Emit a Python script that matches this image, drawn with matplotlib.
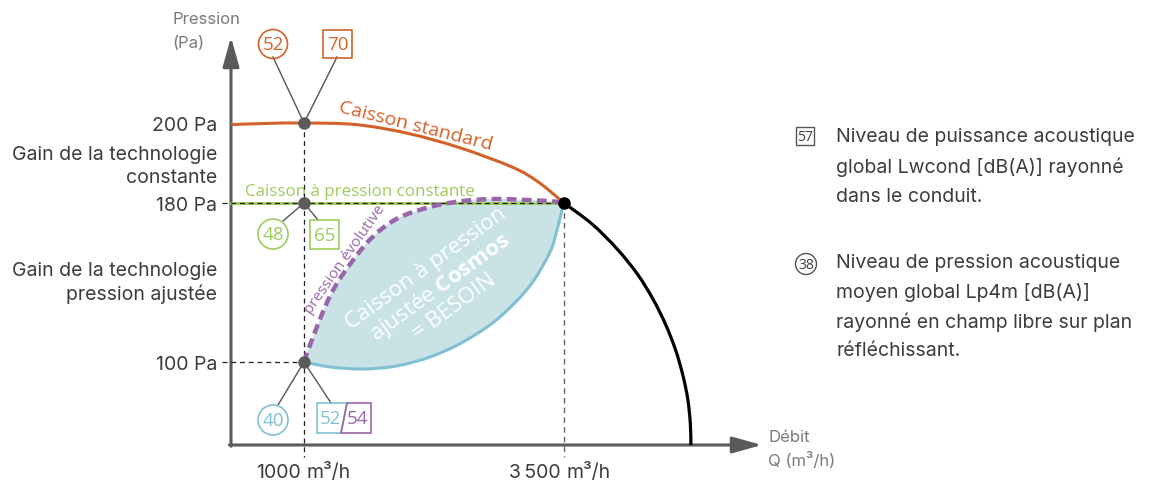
import numpy as np
import matplotlib
matplotlib.use("Agg")
import matplotlib.pyplot as plt
from matplotlib.patches import Circle, Rectangle, Polygon, PathPatch
from matplotlib.path import Path

W, H = 1167, 481

# --- courbes (débit m3/h, pression Pa) ---
q_standard = [0, 500, 1000, 1500, 2000, 2500, 3000, 3250, 3500]
p_standard = [199.6, 199.9, 200.0, 199.6, 197.4, 193.8, 189.0, 185.3, 180.0]

q_reseau = [3500, 3770, 4010, 4205, 4355, 4475, 4570, 4640, 4690, 4715, 4720]
p_reseau = [180, 169.4, 156.9, 144.3, 131.7, 119.1, 106.5, 85.5, 55.4, 25.3, 0]

q_evolutive = [1000, 1090, 1250, 1410, 1640, 1890, 2210, 2530, 2860, 3340, 3500]
p_evolutive = [100, 113.1, 133.2, 146.8, 161.9, 172.0, 178.0, 180.5, 181.0, 180.5, 180]

q_besoin = [1000, 1250, 1570, 1890, 2210, 2530, 2860, 3170, 3365, 3430, 3490, 3500]
p_besoin = [100, 94.0, 91.6, 95.2, 102.5, 110.1, 121.6, 138.2, 155.3, 165.9, 178.5, 180]

q_ticks = [1000, 3500]
q_tick_nums = ["1000", "3\u2009500"]
p_ticks = [200, 180, 100]
p_tick_labels = ["200 Pa", "180 Pa", "100 Pa"]

q_op, q_nom = 1000, 3500
p_std_op, p_const, p_adj = 200, 180, 100

# niveaux sonores dB(A)
lp_std, lw_std = "52", "70"
lp_const, lw_const = "48", "65"
lp_adj, lw_adj_a, lw_adj_b = "40", "52", "54"

legend_lw = ["Niveau de puissance acoustique", "global Lwcond [dB(A)] rayonné",
             "dans le conduit."]
legend_lp = ["Niveau de pression acoustique", "moyen global Lp4m [dB(A)]",
             "rayonné en champ libre sur plan", "réfléchissant."]

# --- échelle schématique (position en pixels des valeurs repères) ---
Q_REF = [-1000, 0, 1000, 3500, 6000]
X_PX = [158, 231, 304, 564, 824]
P_REF = [-50, 0, 100, 180, 200, 260]
Y_PX = [487.5, 446, 363, 204, 124, -116]
Y_UP = [H - v for v in Y_PX]


def fx(v):
    return np.interp(v, Q_REF, X_PX)


def fx_inv(v):
    return np.interp(v, X_PX, Q_REF)


def fy(v):
    return np.interp(v, P_REF, Y_UP)


def fy_inv(v):
    return np.interp(v, Y_UP, P_REF)


ORANGE = "#d2622a"
GREEN = "#9dcc5c"
BLUE = "#80c0d2"
FILL = "#c9e2e6"
PURPLE = "#9966aa"
AXIS = "#5a5a5a"
TXT = "#3c3c3c"
LIGHT = "#7a7a7a"

plt.rcParams["font.family"] = ["Inter", "DejaVu Sans"]
plt.rcParams["mathtext.fontset"] = "custom"
plt.rcParams["mathtext.rm"] = "Open Sans"
plt.rcParams["mathtext.bf"] = "Open Sans:bold"

fig = plt.figure(figsize=(W / 100, H / 100), dpi=100)
ax = fig.add_axes([231 / W, (H - 446) / H, (762 - 231) / W, (446 - 38) / H])
ax.set_xscale("function", functions=(fx, fx_inv))
ax.set_yscale("function", functions=(fy, fy_inv))
ax.set_xlim(0, float(fx_inv(762)))
ax.set_ylim(0, float(fy_inv(H - 38)))
ax.axis("off")

# axes fléchés
arr = dict(arrowstyle="-|>,head_length=1.8,head_width=0.5", color=AXIS, lw=2.2,
           shrinkA=0, shrinkB=0, mutation_scale=10)
ax.annotate("", xy=(1, 0), xytext=(-0.003, 0), xycoords="axes fraction",
            arrowprops=arr, annotation_clip=False)
ax.annotate("", xy=(0, 1), xytext=(0, -0.003), xycoords="axes fraction",
            arrowprops=arr, annotation_clip=False)

# --- calque en pixels (positions issues de ax.transData) ---
ov = fig.add_axes([0, 0, 1, 1])
ov.set_xlim(0, W)
ov.set_ylim(H, 0)
ov.axis("off")
ov.set_zorder(5)
fig.canvas.draw()


def px(q, p):
    x, y = ax.transData.transform((q, p))
    return x, H - y


def pts_px(qs, ps):
    return np.array([px(q, p) for q, p in zip(qs, ps)])


def smooth(pts):
    # courbe de Bézier passant par les points (Catmull-Rom)
    n = len(pts)
    verts, codes = [pts[0]], [Path.MOVETO]
    for i in range(n - 1):
        p0, p1 = pts[max(i - 1, 0)], pts[i]
        p2, p3 = pts[i + 1], pts[min(i + 2, n - 1)]
        verts += [p1 + (p2 - p0) / 6, p2 - (p3 - p1) / 6, p2]
        codes += [Path.CURVE4] * 3
    return verts, codes


def curve(qs, ps, **kw):
    v, c = smooth(pts_px(qs, ps))
    ov.add_patch(PathPatch(Path(v, c), fill=False, **kw))


# zone Cosmos
vu, cu = smooth(pts_px(q_evolutive, p_evolutive))
vl, cl = smooth(pts_px(q_besoin[::-1], p_besoin[::-1]))
ov.add_patch(PathPatch(Path(vu + vl[1:] + [vu[0]], cu + cl[1:] + [Path.CLOSEPOLY]),
                       fc=FILL, ec="none", zorder=1))
curve(q_besoin, p_besoin, ec=BLUE, lw=2.2, zorder=2, capstyle="round")

# pression constante
ov.plot(*pts_px([0, q_nom], [p_const, p_const]).T, color=GREEN, lw=2.0, zorder=2)

# courbe standard + réseau
curve(q_standard, p_standard, ec=ORANGE, lw=2.2, zorder=3)
curve(q_reseau, p_reseau, ec="black", lw=2.3, zorder=3)

# pointillés de repère
dash = dict(color="#222222", lw=0.9, ls=(0, (4, 3)), zorder=4)
ov.plot(*pts_px([-125, q_nom], [p_const, p_const]).T, **dash)
ov.plot(*pts_px([-125, q_op], [p_adj, p_adj]).T, **dash)
ov.plot(*pts_px([q_op, q_op], [p_std_op, -14]).T, **dash)
ov.plot(*pts_px([q_nom, q_nom], [p_const, -14]).T, color="#666666", lw=1.0,
        ls=(0, (4, 3)), zorder=0.5)

# pression évolutive
curve(q_evolutive, p_evolutive, ec=PURPLE, lw=3.2, ls=(0, (2.2, 1.2)), zorder=5)

# points
ov.plot(*pts_px([q_op] * 3, [p_std_op, p_const, p_adj]).T, "o", color="#5b5b5b",
        ms=8, zorder=6)
ov.plot(*pts_px([q_nom], [p_const]).T, "o", color="black", ms=8, zorder=6)


def circ(x, y, r, txt, color, fs=13.5, lw=1.2):
    ov.add_patch(Circle((x, y), r, fill=False, ec=color, lw=lw))
    ov.text(x, y + 0.5, txt, ha="center", va="center", color=color,
            fontsize=fs, family="Open Sans")


def box(x, y, w, h, txt, color, fs=13.5, lw=1.2):
    ov.add_patch(Rectangle((x - w / 2, y - h / 2), w, h, fill=False, ec=color, lw=lw))
    ov.text(x, y + 0.5, txt, ha="center", va="center", color=color,
            fontsize=fs, family="Open Sans")


def leader(a, b):
    ov.plot([a[0], b[0]], [a[1], b[1]], color="#555555", lw=1.0, zorder=1)


def lines(x, y0, step, items, **kw):
    for i, s in enumerate(items):
        ov.text(x, y0 + i * step, s, va="center", **kw)


# pastilles caisson standard
x0, y0 = px(q_op, p_std_op)
leader((x0, y0), (x0 - 31, y0 - 66))
leader((x0, y0), (x0 + 33, y0 - 66))
circ(x0 - 31, y0 - 79, 14.5, lp_std, ORANGE)
box(x0 + 33.5, y0 - 79, 29, 28, lw_std, ORANGE)

# pastilles pression constante
x0, y0 = px(q_op, p_const)
leader((x0, y0), (x0 - 21, y0 + 18))
leader((x0, y0), (x0 + 14, y0 + 17))
circ(x0 - 31, y0 + 31, 15, lp_const, GREEN)
box(x0 + 20.5, y0 + 31.5, 29, 29, lw_const, GREEN)

# pastilles pression ajustée
x0, y0 = px(q_op, p_adj)
leader((x0, y0), (x0 - 26, y0 + 43))
leader((x0, y0), (x0 + 27, y0 + 41))
circ(x0 - 31, y0 + 58, 15, lp_adj, BLUE)
bx, by = x0 + 13, y0 + 41
ov.add_patch(Polygon([(bx, by), (bx + 30, by), (bx + 24, by + 30), (bx, by + 30)],
                     closed=True, fill=False, ec=BLUE, lw=1.2))
ov.add_patch(Polygon([(bx + 30, by), (bx + 54, by), (bx + 54, by + 30), (bx + 24, by + 30)],
                     closed=True, fill=False, ec=PURPLE, lw=1.2))
ov.text(bx + 13.5, by + 15.5, lw_adj_a, ha="center", va="center", color=BLUE,
        fontsize=13.5, family="Open Sans")
ov.text(bx + 40.5, by + 15.5, lw_adj_b, ha="center", va="center", color=PURPLE,
        fontsize=13.5, family="Open Sans")

# textes dans le graphique
ov.text(416, 126, "Caisson standard", rotation=-14, ha="center", va="center",
        color=ORANGE, fontsize=14, family="Open Sans", rotation_mode="anchor")
ov.text(245, 196, "Caisson à pression constante", ha="left", va="baseline",
        color=GREEN, fontsize=12.2, family="Open Sans")
ov.text(345, 260, "pression évolutive", rotation=55, ha="center", va="center",
        color=PURPLE, fontsize=11, family="Open Sans", rotation_mode="anchor")
ov.text(440, 288, "Caisson à pression\najustée $\\mathbf{Cosmos}$\n= BESOIN",
        rotation=36, ha="center", va="center", multialignment="center",
        color="white", fontsize=16, family="Open Sans", rotation_mode="anchor",
        linespacing=1.05)

# graduations
for p, lab in zip(p_ticks, p_tick_labels):
    x, y = px(0, p)
    ov.text(x - 14, y + 2, lab, ha="right", va="center", color=TXT, fontsize=14)
for q, num in zip(q_ticks, q_tick_nums):
    x, y = px(q, 0)
    ov.text(x - 3, 478, num, ha="right", va="baseline", color=TXT, fontsize=14)
    ov.text(x + 3, 478, "m³/h", ha="left", va="baseline", color=TXT, fontsize=14)

lines(217, 155, 23, ["Gain de la technologie", "constante"], ha="right",
      color=TXT, fontsize=14)
lines(217, 271, 23, ["Gain de la technologie", "pression ajustée"], ha="right",
      color=TXT, fontsize=14)

lines(172, 20, 23, ["Pression", "(Pa)"], ha="left", color=LIGHT, fontsize=12)
lines(768, 438, 23, ["Débit", "Q (m³/h)"], ha="left", color=LIGHT, fontsize=12)

# légende
ov.add_patch(Rectangle((796, 128), 18, 18, fill=False, ec="#555555", lw=1.0))
ov.text(805, 137.5, "57", ha="center", va="center", color=TXT, fontsize=10,
        family="Open Sans")
ov.add_patch(Circle((806, 265), 10.5, fill=False, ec="#555555", lw=1.0))
ov.text(806, 265.5, "38", ha="center", va="center", color=TXT, fontsize=10,
        family="Open Sans")
lines(836, 137, 30, legend_lw, ha="left", color=TXT, fontsize=14)
lines(836, 263, 29.5, legend_lp, ha="left", color=TXT, fontsize=14)

fig.savefig("out.png", dpi=100)
